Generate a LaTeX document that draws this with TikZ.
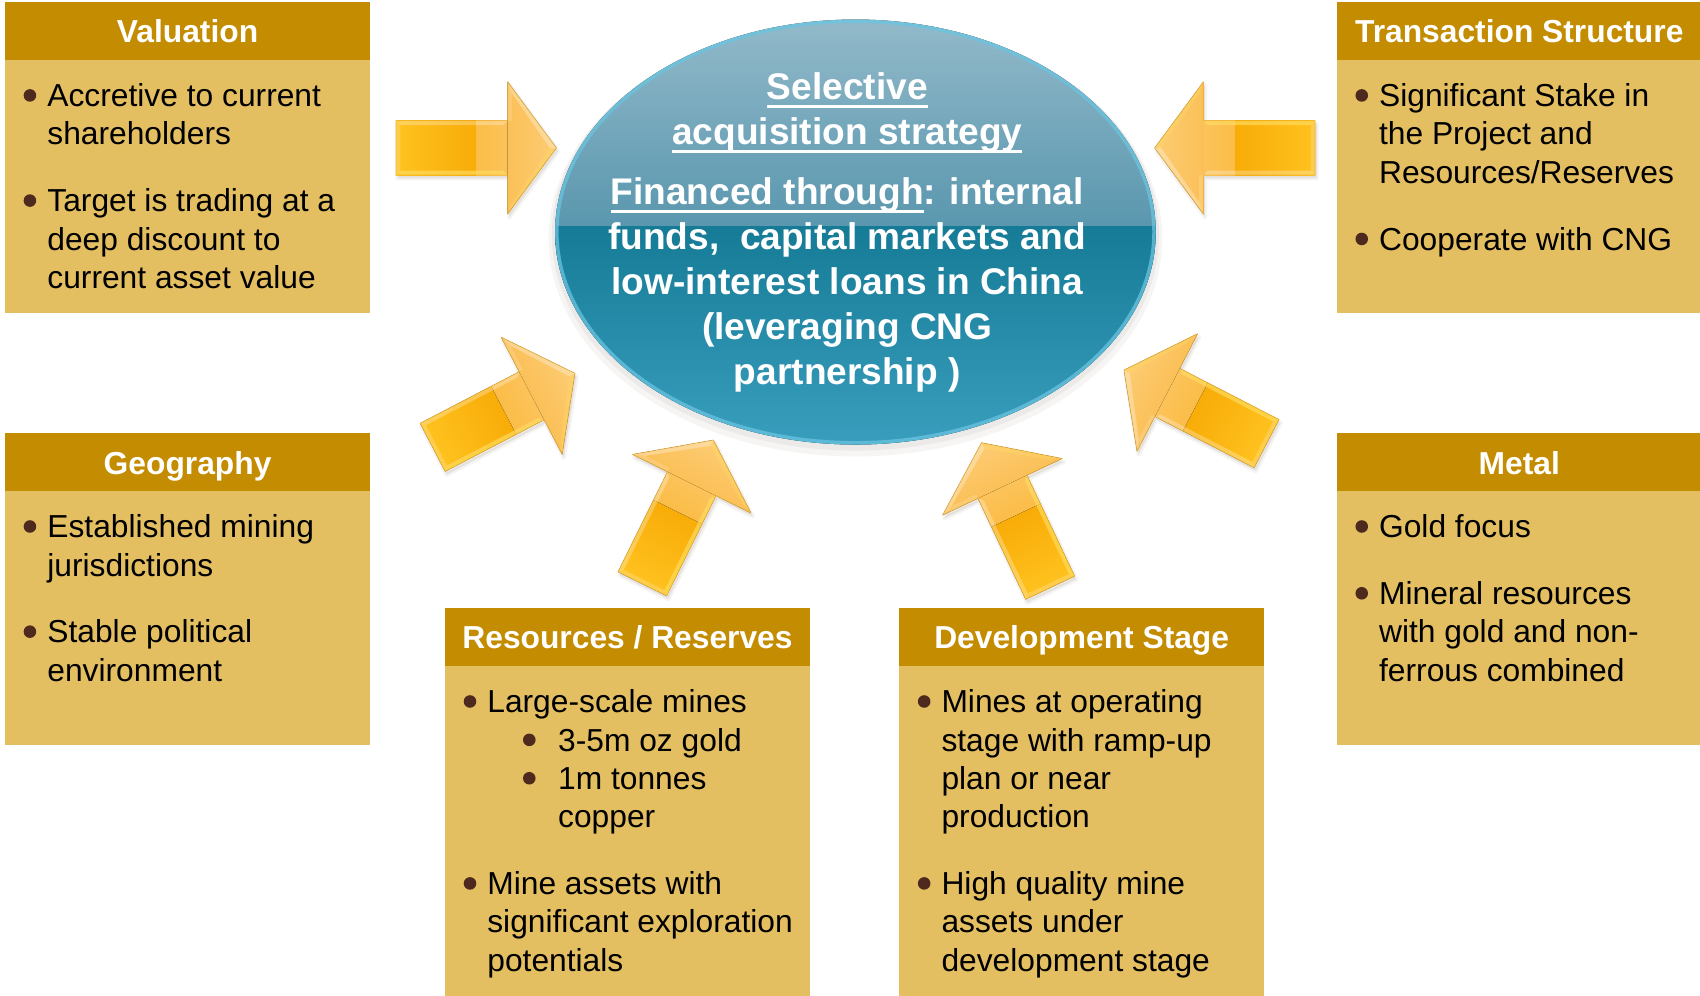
\documentclass[tikz,border=0pt]{standalone}
\usepackage{fontspec}
\setmainfont{Liberation Sans}
\newsavebox\ulbox
\newcommand\ulx[1]{\sbox\ulbox{#1}\rlap{\rule[-3.6pt]{\wd\ulbox}{1.2pt}}\usebox\ulbox}
\definecolor{hdrgold}{HTML}{C48C00}
\definecolor{bodygold}{HTML}{E4BF62}
\definecolor{bulbrown}{HTML}{4E2A1E}
\definecolor{elltopA}{HTML}{93BACA}
\definecolor{elltopB}{HTML}{5A97AE}
\definecolor{ellbotA}{HTML}{167B96}
\definecolor{ellbotB}{HTML}{3A9FBE}
\definecolor{ellrim}{HTML}{6AC4E0}
\definecolor{arA}{HTML}{FFC21F}
\definecolor{arB}{HTML}{F8AC08}
\definecolor{arC}{HTML}{FBBD48}
\definecolor{arD}{HTML}{FCC35A}
\definecolor{arE}{HTML}{FBC058}
\definecolor{arF}{HTML}{FDCC74}
\definecolor{aredge}{HTML}{E3A21A}
\definecolor{arbev}{HTML}{FFE066}
\definecolor{shadowc}{HTML}{5A4A30}
\tikzset{
  boxhead/.style={fill=hdrgold},
  boxbody/.style={fill=bodygold},
  headtxt/.style={anchor=base, inner sep=0pt, text=white, font=\bfseries\fontsize{14.65}{17.6}\selectfont},
  bodytxt/.style={anchor=base west, inner sep=0pt, text=black, font=\fontsize{14.65}{17.6}\selectfont},
  elltxt/.style={anchor=base, inner sep=0pt, text=white, font=\bfseries\fontsize{17.1}{20.7}\selectfont},
  bul/.style={fill=bulbrown},
}
\newcommand\goldarrow[3]{%
  \begin{scope}[transform canvas={shift={(#1+1.5,#2+3)},rotate=#3}]
    \fill[shadowc,opacity=0.10] (0,-25) -- (103,-25) -- (103,-61) -- (148,0) -- (103,61) -- (103,25) -- (0,25) -- cycle;
    \draw[shadowc,opacity=0.06,line width=2pt,line join=round] (0,-25) -- (103,-25) -- (103,-61) -- (148,0) -- (103,61) -- (103,25) -- (0,25) -- cycle;
  \end{scope}
  \begin{scope}[transform canvas={shift={(#1,#2)},rotate=#3}]
    \fill[left color=arA, right color=arB] (0,-25) rectangle (74,25);
    \fill[left color=arC, right color=arD] (74,-25) rectangle (103.5,25);
    \fill[left color=arE, right color=arF] (103,-61) -- (148,0) -- (103,61) -- cycle;
    \fill[white,opacity=0.28] (0,-25) -- (103,-25) -- (99,-21) -- (4,-21) -- cycle;
    \fill[arbev,opacity=0.6] (0,25) -- (103,25) -- (99,21) -- (4,21) -- cycle;
    \fill[white,opacity=0.2] (0,-25) -- (4,-21) -- (4,21) -- (0,25) -- cycle;
    \fill[white,opacity=0.3] (103,-61) -- (148,0) -- (142,0) -- (107,-50) -- cycle;
    \fill[white,opacity=0.15] (103,-61) -- (107,-50) -- (107,-25) -- (103,-25) -- cycle;
    \fill[arbev,opacity=0.3] (103,61) -- (148,0) -- (142,0) -- (107,50) -- cycle;
    \draw[aredge,opacity=0.5,line width=0.4pt,line join=round] (0,-25) -- (103,-25) -- (103,-61) -- (148,0) -- (103,61) -- (103,25) -- (0,25) -- cycle;
  \end{scope}}
\begin{document}
\begin{tikzpicture}[x=0.5pt,y=-0.5pt]
\useasboundingbox (0,0) rectangle (1568,918);
\fill[white] (0,0) rectangle (1568,918);

% ---- boxes
\fill[boxhead] (4.6,1.5) rectangle (341.3,55);
\fill[boxbody] (4.6,55) rectangle (341.3,289);
\fill[boxhead] (1232.9,1.5) rectangle (1572,55);
\fill[boxbody] (1232.9,55) rectangle (1572,289);
\fill[boxhead] (4.6,399.7) rectangle (341.3,452.6);
\fill[boxbody] (4.6,452.6) rectangle (341.3,687.1);
\fill[boxhead] (1232.9,399.7) rectangle (1572,452.6);
\fill[boxbody] (1232.9,452.6) rectangle (1572,687.1);
\fill[boxhead] (410.4,561.1) rectangle (747.1,614);
\fill[boxbody] (410.4,614) rectangle (747.1,922);
\fill[boxhead] (829.3,561.1) rectangle (1166,614);
\fill[boxbody] (829.3,614) rectangle (1166,922);

% ---- Valuation
\node[headtxt] (valT) at (173,39) {Valuation};
\fill[bul] (27.6,88) circle (2.9pt);
\node[bodytxt] (val1) at (43.3,98.3) {Accretive to current};
\node[bodytxt] (val2) at (43.3,133.7) {shareholders};
\fill[bul] (27.6,185) circle (2.9pt);
\node[bodytxt] (val3) at (43.3,195.3) {Target is trading at a};
\node[bodytxt] (val4) at (43.3,230.7) {deep discount to};
\node[bodytxt] (val5) at (43.3,266.1) {current asset value};

% ---- Transaction Structure
\node[headtxt] (trT) at (1401.3,39) {Transaction Structure};
\fill[bul] (1256,88) circle (2.9pt);
\node[bodytxt] (tr1) at (1271.6,98.3) {Significant Stake in};
\node[bodytxt] (tr2) at (1271.6,133.7) {the Project and};
\node[bodytxt] (tr3) at (1271.6,169.1) {Resources/Reserves};
\fill[bul] (1256,220.4) circle (2.9pt);
\node[bodytxt] (tr4) at (1271.6,230.7) {Cooperate with CNG};

% ---- Geography
\node[headtxt] (geoT) at (173,437.3) {Geography};
\fill[bul] (27.6,485.6) circle (2.9pt);
\node[bodytxt] (geo1) at (43.3,495.9) {Established mining};
\node[bodytxt] (geo2) at (43.3,531.3) {jurisdictions};
\fill[bul] (27.6,582.6) circle (2.9pt);
\node[bodytxt] (geo3) at (43.3,592.9) {Stable political};
\node[bodytxt] (geo4) at (43.3,628.3) {environment};

% ---- Metal
\node[headtxt] (metT) at (1401.3,437.3) {Metal};
\fill[bul] (1256,485.6) circle (2.9pt);
\node[bodytxt] (met1) at (1271.6,495.9) {Gold focus};
\fill[bul] (1256,547.2) circle (2.9pt);
\node[bodytxt] (met2) at (1271.6,557.5) {Mineral resources};
\node[bodytxt] (met3) at (1271.6,592.9) {with gold and non-};
\node[bodytxt] (met4) at (1271.6,628.3) {ferrous combined};

% ---- Resources / Reserves
\node[headtxt] (resT) at (578.8,598) {Resources / Reserves};
\fill[bul] (433.5,647) circle (2.9pt);
\node[bodytxt] (res1) at (449.1,657.3) {Large-scale mines};
\fill[bul] (488.2,682.4) circle (2.9pt);
\node[bodytxt] (res2) at (514.4,692.7) {3-5m oz gold};
\fill[bul] (488.2,717.8) circle (2.9pt);
\node[bodytxt] (res3) at (514.4,728.1) {1m tonnes};
\node[bodytxt] (res4) at (514.4,763.5) {copper};
\fill[bul] (433.5,814.8) circle (2.9pt);
\node[bodytxt] (res5) at (449.1,825.1) {Mine assets with};
\node[bodytxt] (res6) at (449.1,860.5) {significant exploration};
\node[bodytxt] (res7) at (449.1,895.9) {potentials};

% ---- Development Stage
\node[headtxt] (devT) at (997.7,598) {Development Stage};
\fill[bul] (852.4,647) circle (2.9pt);
\node[bodytxt] (dev1) at (868,657.3) {Mines at operating};
\node[bodytxt] (dev2) at (868,692.7) {stage with ramp-up};
\node[bodytxt] (dev3) at (868,728.1) {plan or near};
\node[bodytxt] (dev4) at (868,763.5) {production};
\fill[bul] (852.4,814.8) circle (2.9pt);
\node[bodytxt] (dev5) at (868,825.1) {High quality mine};
\node[bodytxt] (dev6) at (868,860.5) {assets under};
\node[bodytxt] (dev7) at (868,895.9) {development stage};

% ---- central ellipse
\fill[shadowc, opacity=0.05] (789,220) ellipse [x radius=141.5pt, y radius=100.5pt];
\fill[shadowc, opacity=0.06] (789,217) ellipse [x radius=140pt, y radius=99.3pt];
\begin{scope}
  \clip (789,214) ellipse [x radius=138.5pt, y radius=98pt];
  \fill[top color=elltopA, bottom color=elltopB] (500,14) rectangle (1080,209);
  \fill[top color=ellbotA, bottom color=ellbotB] (500,209) rectangle (1080,414);
\end{scope}
\draw[ellrim, line width=1.6pt, opacity=0.75] (789,214) ellipse [x radius=137.7pt, y radius=97.2pt];

\node[elltxt] (e1) at (781.5,92.2) {\ulx{Selective}};
\node[elltxt] (e2) at (781.5,133.7) {\ulx{acquisition strategy}};
\node[elltxt] (e3) at (781.5,189) {\ulx{Financed through}: internal};
\node[elltxt] (e4) at (781.5,230.5) {funds,\ \ capital markets and};
\node[elltxt] (e5) at (781.5,272) {low-interest loans in China};
\node[elltxt] (e6) at (781.5,313.5) {(leveraging CNG};
\node[elltxt] (e7) at (781.5,355) {partnership )};

% ---- arrows
\goldarrow{365.2}{136.4}{0}
\goldarrow{1213}{136.4}{180}
\goldarrow{399}{412.6}{27.5}
\goldarrow{1168.2}{409.2}{152.7}
\goldarrow{592.4}{538.5}{63.7}
\goldarrow{968.6}{542.1}{115.3}
\end{tikzpicture}
\end{document}
